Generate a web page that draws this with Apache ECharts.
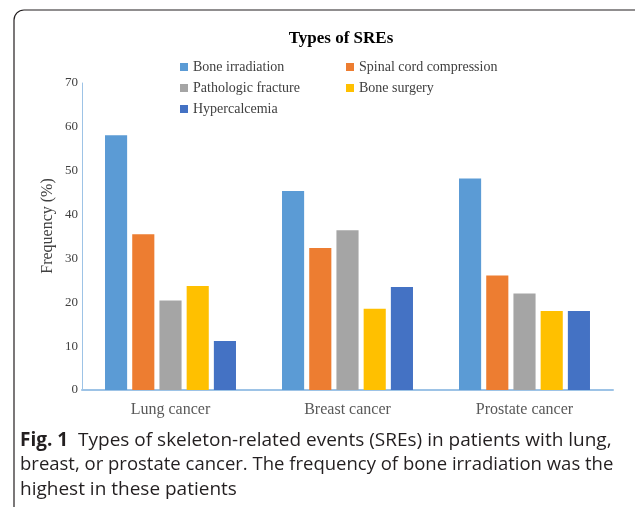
<!DOCTYPE html>
<html>
<head>
<meta charset="utf-8">
<script src="https://cdn.jsdelivr.net/npm/echarts@6/dist/echarts.min.js"></script>
<style>html,body{margin:0;padding:0;background:#fff;}#c{width:635px;height:507px;}</style>
</head>
<body>
<div id="c"></div>
<script>
const categories = ['Lung cancer', 'Breast cancer', 'Prostate cancer'];
const seriesNames = ['Bone irradiation', 'Spinal cord compression', 'Pathologic fracture', 'Bone surgery', 'Hypercalcemia'];
const boneIrradiation = [58.1, 45.4, 48.2];
const spinalCordCompression = [35.5, 32.4, 26.1];
const pathologicFracture = [20.4, 36.4, 22.0];
const boneSurgery = [23.7, 18.5, 18.0];
const hypercalcemia = [11.2, 23.5, 18.0];
const yTicks = [0, 10, 20, 30, 40, 50, 60, 70];
const captionLines = [
  'Types of skeleton-related events (SREs) in patients with lung,',
  'breast, or prostate cancer. The frequency of bone irradiation was the',
  'highest in these patients'
];

const colors = ['#5B9BD5', '#ED7D31', '#A5A5A5', '#FFC000', '#4472C4'];
const values = [boneIrradiation, spinalCordCompression, pathologicFracture, boneSurgery, hypercalcemia];
const serif = '"Liberation Serif", "DejaVu Serif", serif';
const sans = '"Open Sans", "Noto Sans", sans-serif';

const chart = echarts.init(document.getElementById('c'), null, {renderer: 'canvas'});
const legendText = {fontFamily: serif, fontSize: 14, color: '#404040', lineHeight: 14};
chart.setOption({
  animation: false,
  color: colors,
  title: {
    text: 'Types of SREs', left: 336, top: 25, textAlign: 'center',
    textStyle: {fontFamily: serif, fontSize: 17, fontWeight: 'bold', color: '#000'}
  },
  legend: [
    {data: [seriesNames[0], seriesNames[2], seriesNames[4]], orient: 'vertical', left: 180, top: 60,
      itemWidth: 8, itemHeight: 8, itemGap: 7, icon: 'rect', textStyle: legendText, padding: 0},
    {data: [seriesNames[1], seriesNames[3]], orient: 'vertical', left: 346, top: 60,
      itemWidth: 8, itemHeight: 8, itemGap: 7, icon: 'rect', textStyle: legendText, padding: 0}
  ],
  grid: {left: 82, right: 22, top: 83, bottom: 117, containLabel: false},
  xAxis: {
    type: 'category', data: categories,
    axisLine: {lineStyle: {color: '#9DC3E6', width: 2}},
    axisTick: {show: false},
    axisLabel: {fontFamily: serif, fontSize: 16, color: '#595959', margin: 12}
  },
  yAxis: {
    type: 'value', min: yTicks[0], max: yTicks[yTicks.length - 1], interval: 10,
    axisLine: {show: true, lineStyle: {color: '#9DC3E6', width: 1}},
    axisTick: {show: false},
    splitLine: {show: false},
    axisLabel: {fontFamily: serif, fontSize: 13, color: '#404040', margin: 4}
  },
  series: seriesNames.map((n, i) => ({
    name: n, type: 'bar', data: values[i],
    barCategoryGap: '26%', barGap: '23%',
    itemStyle: {color: colors[i]}
  })),
  graphic: [
    {type: 'rect', shape: {x: 14, y: 10, width: 700, height: 600, r: 10},
      style: {fill: 'none', stroke: '#231f20', lineWidth: 1.2}, silent: true},
    {type: 'text', x: 48, y: 226, rotation: Math.PI / 2,
      style: {text: 'Frequency (%)', font: '16px ' + serif, fill: '#404040', align: 'center', verticalAlign: 'middle'}},
    {type: 'text', x: 20, y: 441,
      style: {text: '{b|Fig. 1}  ' + captionLines[0], font: '19px ' + sans, fill: '#231f20', verticalAlign: 'middle',
        rich: {b: {fontFamily: sans, fontSize: 19, fontWeight: 'bold', fill: '#231f20'}}}},
    {type: 'text', x: 20, y: 465, style: {text: captionLines[1], font: '18.5px ' + sans, fill: '#231f20', verticalAlign: 'middle'}},
    {type: 'text', x: 20, y: 490, style: {text: captionLines[2], font: '19px ' + sans, fill: '#231f20', verticalAlign: 'middle'}}
  ]
});
</script>
</body>
</html>
